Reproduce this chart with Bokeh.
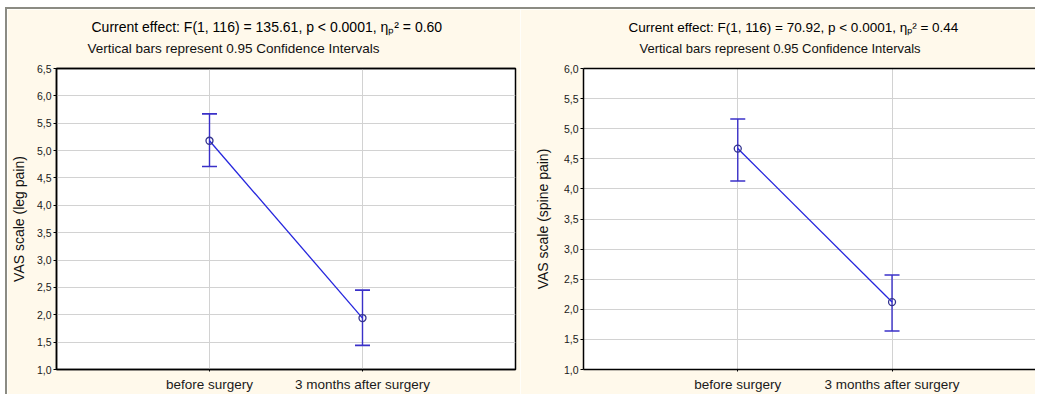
from bokeh.plotting import figure
from bokeh.models import (ColumnDataSource, Whisker, TeeHead, FixedTicker,
                          CustomJSTickFormatter, Title, Range1d, LinearAxis)
from bokeh.layouts import row
from bokeh.embed import file_html
from bokeh.resources import INLINE

# ---------------- data ----------------
categories = ["before surgery", "3 months after surgery"]

leg_mean = [5.18, 1.94]
leg_lower = [4.71, 1.44]
leg_upper = [5.67, 2.45]

spine_mean = [4.67, 2.12]
spine_lower = [4.13, 1.64]
spine_upper = [5.16, 2.57]

leg_ticks = [1.0, 1.5, 2.0, 2.5, 3.0, 3.5, 4.0, 4.5, 5.0, 5.5, 6.0, 6.5]
spine_ticks = [1.0, 1.5, 2.0, 2.5, 3.0, 3.5, 4.0, 4.5, 5.0, 5.5, 6.0]

leg_title = "Current effect: F(1, 116) = 135.61, p < 0.0001, \u03b7\u209a\u00b2 = 0.60"
spine_title = "Current effect: F(1, 116) = 70.92, p < 0.0001, \u03b7\u209a\u00b2 = 0.44"
subtitle = "Vertical bars represent 0.95 Confidence Intervals"
leg_ylabel = "VAS scale (leg pain)"
spine_ylabel = "VAS scale (spine pain)"

# ---------------- style ----------------
FONT = "Liberation Sans"
BG = "#FFF9EB"
LINE_C = "#2525dd"
BAR_C = "#3a30c8"
MARK_C = "#33338f"


def make_panel(mean, lower, upper, ticks, ylabel, title, width, height,
               border_left, border_right, border_top, border_bottom, x_end,
               label_standoff, title_off, sub_off, title_size, sub_size,
               right_outline=True):
    xs = [i + 1 for i in range(len(categories))]
    src = ColumnDataSource(dict(x=xs, mean=mean, lower=lower, upper=upper))
    p = figure(width=width, height=height, output_backend="svg",
               toolbar_location=None, x_range=Range1d(0, x_end),
               y_range=Range1d(ticks[0], ticks[-1]),
               min_border_left=border_left, min_border_right=border_right,
               min_border_top=border_top, min_border_bottom=border_bottom)
    p.background_fill_color = "white"
    p.border_fill_color = BG
    if right_outline:
        p.outline_line_color = "black"
        p.outline_line_width = 1.5
    else:
        p.outline_line_color = None

    # axes
    p.xaxis.ticker = FixedTicker(ticks=xs)
    p.xaxis.major_label_overrides = {x: c for x, c in zip(xs, categories)}
    p.yaxis.ticker = FixedTicker(ticks=ticks)
    p.yaxis.formatter = CustomJSTickFormatter(
        code="return tick.toFixed(1).replace('.', ',');")
    for ax in (p.xaxis[0], p.yaxis[0]):
        ax.axis_line_color = "black"
        ax.axis_line_width = 1.5
        ax.major_tick_line_color = "black"
        ax.major_tick_in = 0
        ax.minor_tick_line_color = None
        ax.major_label_text_font = FONT
        ax.major_label_text_color = "#1a1a1a"
    p.xaxis.major_tick_out = 2
    p.xaxis.major_label_standoff = 5
    p.xaxis.major_label_text_font_size = "13.5px"
    p.yaxis.major_tick_out = 3
    p.yaxis.major_label_standoff = 2
    p.yaxis.major_label_text_font_size = "10.5px"
    p.yaxis.axis_label = ylabel
    p.yaxis.axis_label_text_font = FONT
    p.yaxis.axis_label_text_font_size = "14px"
    p.yaxis.axis_label_text_font_style = "normal"
    p.yaxis.axis_label_text_color = "#111111"
    p.yaxis.axis_label_standoff = label_standoff

    # top axis: frame top border, also keeps a gap below the subtitle
    top = LinearAxis(ticker=FixedTicker(ticks=xs),
                     major_label_overrides={x: "" for x in xs},
                     major_label_text_font_size="1px", major_label_standoff=0,
                     major_tick_in=0, major_tick_out=10,
                     major_tick_line_color=None, minor_tick_line_color=None,
                     axis_line_color="black", axis_line_width=1.5)
    p.add_layout(top, "above")

    p.xgrid.grid_line_color = "#d2d2d2"
    p.ygrid.grid_line_color = "#d2d2d2"

    # data
    p.line("x", "mean", source=src, line_color=LINE_C, line_width=1.3)
    p.add_layout(Whisker(source=src, base="x", upper="upper", lower="lower",
                         line_color=BAR_C, line_width=1.4,
                         upper_head=TeeHead(size=15, line_color=BAR_C, line_width=1.6),
                         lower_head=TeeHead(size=15, line_color=BAR_C, line_width=1.6)))
    p.scatter("x", "mean", source=src, marker="circle", size=7,
              fill_color=None, line_color=MARK_C, line_width=1.3)

    # titles: subtitle first (closest to frame), then main title
    p.add_layout(Title(text=subtitle, align="left", offset=sub_off, standoff=5,
                       text_font=FONT, text_font_size=sub_size,
                       text_font_style="normal", text_color="#111111"), "above")
    p.add_layout(Title(text=title, align="left", offset=title_off, standoff=4,
                       text_font=FONT, text_font_size=title_size,
                       text_font_style="normal", text_color="black"), "above")
    return p


left = make_panel(leg_mean, leg_lower, leg_upper, leg_ticks, leg_ylabel, leg_title,
                  width=513, height=385, border_left=45, border_right=5,
                  border_top=58, border_bottom=22, x_end=3.0, label_standoff=7,
                  title_off=35, sub_off=31, title_size="14px", sub_size="13.5px")
right = make_panel(spine_mean, spine_lower, spine_upper, spine_ticks, spine_ylabel,
                   spine_title, width=515, height=385, border_left=63, border_right=0,
                   border_top=59, border_bottom=25, x_end=2.93, label_standoff=10,
                   title_off=45, sub_off=56, title_size="13.5px", sub_size="13px",
                   right_outline=False)

layout = row(left, right, styles={"margin-top": "7px", "margin-left": "5px",
                                  "border-top": "2px solid #8b8b83",
                                  "border-left": "2px solid #8b8b83"})
open("out.html", "w").write(file_html(layout, INLINE))
